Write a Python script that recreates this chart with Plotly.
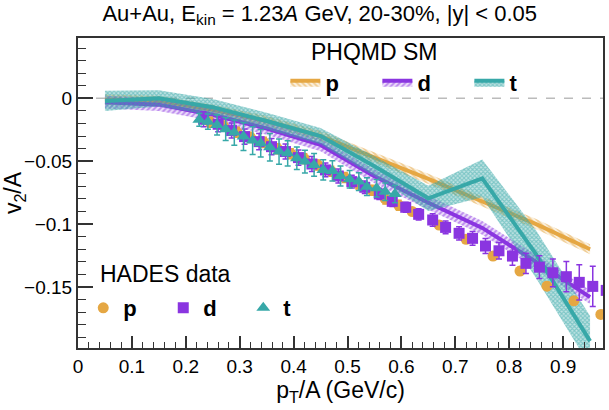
import plotly.graph_objects as go

# ---------------- PHQMD SM model (central value and half-width of band) -----
model_pt = [0.05, 0.15, 0.25, 0.35, 0.45, 0.55, 0.65, 0.75, 0.85, 0.95]
p_model = [-0.001, -0.002, -0.009, -0.018, -0.030, -0.047, -0.064, -0.082, -0.100, -0.120]
p_model_err = [0.004, 0.004, 0.004, 0.004, 0.004, 0.004, 0.004, 0.004, 0.004, 0.004]
d_model = [-0.003, -0.005, -0.013, -0.024, -0.037, -0.062, -0.083, -0.103, -0.130, -0.158]
d_model_err = [0.005, 0.005, 0.005, 0.005, 0.005, 0.0055, 0.0055, 0.0055, 0.0055, 0.0055]
t_model = [-0.002, 0.000, -0.007, -0.018, -0.030, -0.054, -0.0795, -0.0636, -0.124, -0.193]
t_model_err = [0.008, 0.0065, 0.0065, 0.0065, 0.0065, 0.008, 0.010, 0.015, 0.019, 0.020]

# ---------------- HADES data ------------------------------------------------
p_pt = [0.245, 0.27, 0.295, 0.32, 0.345, 0.37, 0.395, 0.42, 0.445, 0.47, 0.495,
        0.52, 0.545, 0.57, 0.595, 0.62, 0.67, 0.72, 0.77, 0.82, 0.87, 0.92, 0.97]
p_v2 = [-0.019, -0.022, -0.027, -0.031, -0.035, -0.040, -0.044, -0.048, -0.053,
        -0.058, -0.063, -0.068, -0.073, -0.080, -0.085, -0.090, -0.1007, -0.1121,
        -0.1254, -0.1373, -0.1493, -0.1610, -0.1718]
p_err = [0.004, 0.004, 0.004, 0.004, 0.004, 0.004, 0.004, 0.004, 0.004, 0.004, 0.004,
         0.004, 0.004, 0.004, 0.004, 0.003, 0.003, 0.003, 0.003, 0.003, 0.003, 0.003, 0.003]

d_pt = [0.233, 0.260, 0.285, 0.309, 0.336, 0.359, 0.385, 0.409, 0.434, 0.459, 0.483,
        0.508, 0.532, 0.559, 0.583, 0.608, 0.632, 0.658, 0.682, 0.707, 0.732, 0.756,
        0.781, 0.806, 0.831, 0.856, 0.881, 0.906, 0.930, 0.955, 0.980]
d_v2 = [-0.0166, -0.0206, -0.0256, -0.0304, -0.0344, -0.0384, -0.0423, -0.0471,
        -0.0522, -0.0569, -0.0617, -0.0662, -0.0707, -0.0760, -0.0819, -0.0866,
        -0.0922, -0.0967, -0.1026, -0.1073, -0.1113, -0.1174, -0.1212, -0.1254,
        -0.1312, -0.1342, -0.1387, -0.1418, -0.1463, -0.1495, -0.1527]
d_err = [0.006, 0.006, 0.006, 0.006, 0.0065, 0.0065, 0.006, 0.006, 0.006, 0.0055,
         0.0055, 0.005, 0.005, 0.0045, 0.004, 0.004, 0.0045, 0.005, 0.005, 0.0053,
         0.0055, 0.006, 0.0065, 0.0073, 0.008, 0.009, 0.011, 0.012, 0.014, 0.016, 0.017]

t_pt = [0.225, 0.241, 0.258, 0.274, 0.290, 0.307, 0.324, 0.339, 0.356, 0.373, 0.389,
        0.406, 0.421, 0.438, 0.455, 0.472, 0.487, 0.504, 0.521, 0.536, 0.554, 0.570, 0.588]
t_v2 = [-0.0171, -0.0185, -0.0211, -0.0245, -0.0272, -0.0304, -0.0336, -0.0357,
        -0.0389, -0.0423, -0.0437, -0.0476, -0.0503, -0.0529, -0.0569, -0.0577,
        -0.0617, -0.0643, -0.0662, -0.0702, -0.0715, -0.0742, -0.0760]
t_err = [0.005, 0.006, 0.008, 0.009, 0.010, 0.011, 0.011, 0.011, 0.011, 0.010, 0.010,
         0.009, 0.009, 0.009, 0.008, 0.008, 0.008, 0.007, 0.007, 0.007, 0.007, 0.007, 0.007]

x_ticks = [0, 0.1, 0.2, 0.3, 0.4, 0.5, 0.6, 0.7, 0.8, 0.9]
x_ticklabels = ["0", "0.1", "0.2", "0.3", "0.4", "0.5", "0.6", "0.7", "0.8", "0.9"]
y_ticks = [0, -0.05, -0.1, -0.15]
y_ticklabels = ["0", "\u22120.05", "\u22120.1", "\u22120.15"]

ORANGE = "#E5A743"
PURPLE = "#8A35E0"
TEAL = "#37A8A8"
FONT = "Liberation Sans, Arial, sans-serif"

fig = go.Figure()


def add_band(name, center, half, color, tint, shape, size, solidity):
    lower = [c - h for c, h in zip(center, half)]
    upper = [c + h for c, h in zip(center, half)]
    pattern = dict(shape=shape, fgcolor=color, bgcolor=tint,
                   size=size, solidity=solidity, fillmode="overlay")
    fig.add_trace(go.Scatter(x=model_pt, y=lower, mode="lines",
                             line=dict(width=0, color=color),
                             showlegend=False, hoverinfo="skip"))
    fig.add_trace(go.Scatter(x=model_pt, y=center, mode="lines", name=name,
                             line=dict(width=4, color=color),
                             fill="tonexty", fillcolor=tint,
                             fillpattern=pattern, legend="legend"))
    fig.add_trace(go.Scatter(x=model_pt, y=upper, mode="lines",
                             line=dict(width=0, color=color),
                             fill="tonexty", fillcolor=tint,
                             fillpattern=pattern, showlegend=False,
                             hoverinfo="skip"))


add_band("p", p_model, p_model_err, ORANGE, "rgba(229,167,67,0.15)", "\\", 4, 0.5)
add_band("d", d_model, d_model_err, PURPLE, "rgba(138,53,224,0.15)", "/", 4, 0.5)
add_band("t", t_model, t_model_err, TEAL, "rgba(55,168,168,0.3)", "x", 3, 0.6)


def add_data(name, x, y, err, color, symbol, size):
    fig.add_trace(go.Scatter(
        x=x, y=y, mode="markers", name=name, legend="legend2",
        marker=dict(symbol=symbol, size=size, color=color, line=dict(width=0)),
        error_y=dict(type="data", array=err, visible=True, color=color,
                     thickness=1.5, width=3)))


add_data("p", p_pt, p_v2, p_err, ORANGE, "circle", 11)
add_data("d", d_pt, d_v2, d_err, PURPLE, "square", 11)
add_data("t", t_pt, t_v2, t_err, TEAL, "triangle-up", 12)

axis_color = "#333333"
fig.update_layout(
    width=609, height=410,
    margin=dict(l=76, r=4, t=38, b=62),
    paper_bgcolor="white", plot_bgcolor="white",
    font=dict(family=FONT, color="black"),
    title=dict(text="Au+Au, E<sub>kin</sub> = 1.23<i>A</i> GeV, 20-30%, |y| < 0.05",
               x=0.525, xanchor="center", y=0.968, yanchor="middle",
               font=dict(size=22, family=FONT)),
    xaxis=dict(range=[0, 0.974], tickvals=x_ticks, ticktext=x_ticklabels,
               ticks="inside", ticklen=12, tickwidth=1.5, tickcolor=axis_color,
               minor=dict(dtick=0.02, ticks="inside", ticklen=6, tickwidth=1.2,
                          tickcolor=axis_color),
               showline=True, linecolor=axis_color, linewidth=2, mirror=True,
               showgrid=False, zeroline=False,
               tickfont=dict(size=19, family=FONT),
               title=dict(text="p<sub>T</sub>/A (GeV/c)", standoff=4,
                          font=dict(size=23, family=FONT))),
    yaxis=dict(range=[-0.1985, 0.048], tickvals=y_ticks, ticktext=y_ticklabels,
               ticks="inside", ticklen=15, tickwidth=1.5, tickcolor=axis_color,
               minor=dict(dtick=0.01, ticks="inside", ticklen=8, tickwidth=1.2,
                          tickcolor=axis_color),
               showline=True, linecolor=axis_color, linewidth=2, mirror=True,
               showgrid=False, zeroline=False,
               tickfont=dict(size=19, family=FONT),
               title=dict(text="v<sub>2</sub>/A", standoff=4,
                          font=dict(size=23, family=FONT))),
    legend=dict(orientation="h", x=0.395, y=0.855, xanchor="left", yanchor="middle",
                traceorder="normal",
                bgcolor="rgba(0,0,0,0)", borderwidth=0, entrywidth=47,
                entrywidthmode="pixels", itemwidth=30,
                font=dict(size=22, family=FONT, weight="bold")),
    legend2=dict(orientation="h", x=0.01, y=0.129, xanchor="left", yanchor="middle",
                 traceorder="normal",
                 bgcolor="rgba(0,0,0,0)", borderwidth=0, entrywidth=35,
                 entrywidthmode="pixels", itemwidth=30,
                 font=dict(size=22, family=FONT, weight="bold")),
    annotations=[
        dict(text="PHQMD SM", xref="paper", yref="paper", x=0.44, y=0.955,
             xanchor="left", yanchor="middle", showarrow=False,
             font=dict(size=23, family=FONT)),
        dict(text="HADES data", xref="paper", yref="paper", x=0.038, y=0.239,
             xanchor="left", yanchor="middle", showarrow=False,
             font=dict(size=23, family=FONT)),
    ],
    shapes=[dict(type="line", xref="x domain", x0=0, x1=1, yref="y", y0=0, y1=0,
                 line=dict(color="#BBBBBB", width=1.5, dash="dash"), layer="below")],
)

fig.write_html("out.html")
